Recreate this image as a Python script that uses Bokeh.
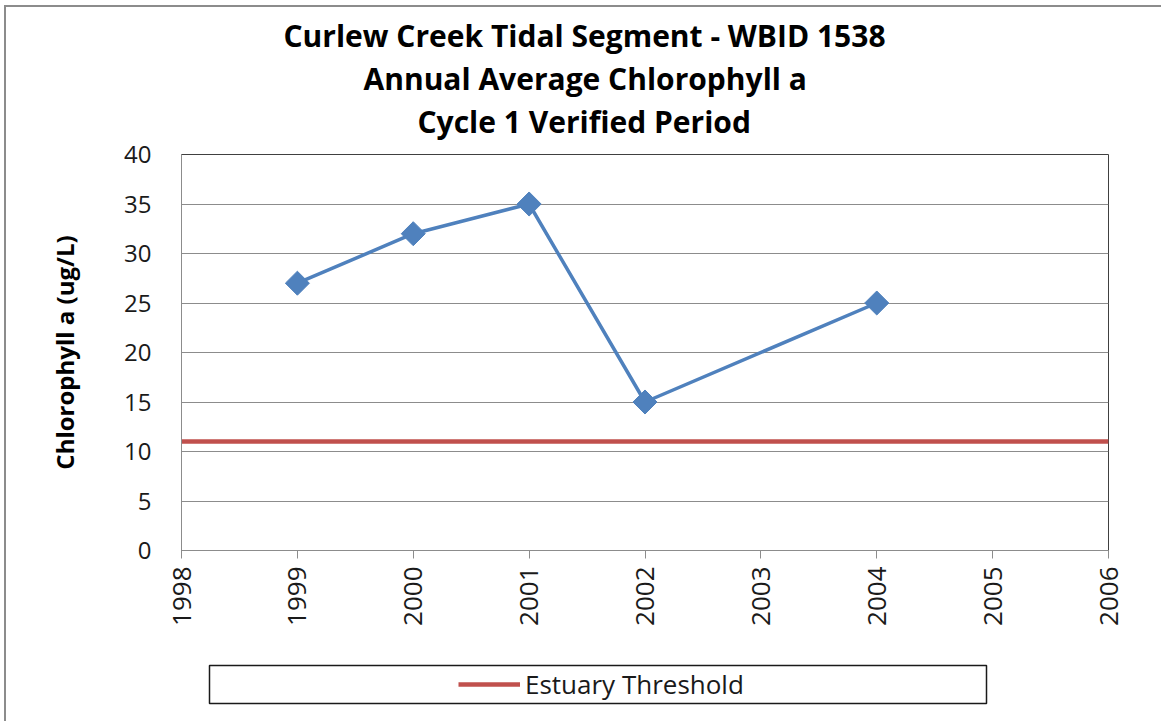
import numpy as np
from bokeh.plotting import figure
from bokeh.layouts import column
from bokeh.models import Range1d, FixedTicker, Legend, LegendItem, Title, BoxAnnotation
from bokeh.embed import file_html
from bokeh.resources import INLINE

# ---- data ----
years = [1999, 2000, 2001, 2002, 2004]
chl_values = [27, 32, 35, 15, 25]
threshold_value = 11
x_ticks = [1998, 1999, 2000, 2001, 2002, 2003, 2004, 2005, 2006]
y_ticks = [0, 5, 10, 15, 20, 25, 30, 35, 40]
title_lines = ["Curlew Creek Tidal Segment - WBID 1538",
               "Annual Average Chlorophyll a",
               "Cycle 1 Verified Period"]
y_label = "Chlorophyll a (ug/L)"
legend_label = "Estuary Threshold"

FONT = "Open Sans"
W = 1161
H_MAIN, H_LEG = 650, 71
FL, FT, FW, FH = 181, 154, 927, 396   # frame in pixels
X0, X1 = x_ticks[0], x_ticks[-1]
Y0, Y1 = y_ticks[0], y_ticks[-1]
THR_COLOR = "#C0504D"
SER_COLOR = "#4F81BD"
EDGE = "linear-gradient(#8c8c8c,#8c8c8c) 4px 5px / 2px 100% no-repeat"

p = figure(width=W, height=H_MAIN, output_backend="svg",
           toolbar_location=None,
           x_range=Range1d(X0, X1), y_range=Range1d(Y0, Y1))
p.min_border_left = FL
p.min_border_top = FT
p.min_border_right = W - FL - FW
p.min_border_bottom = H_MAIN - FT - FH
p.background_fill_color = "white"
p.border_fill_alpha = 0
p.styles = {"background": EDGE + ", linear-gradient(#8c8c8c,#8c8c8c) 4px 5px / 100% 2px no-repeat, white"}
p.outline_line_color = "#404040"
p.outline_line_width = 1

p.xgrid.visible = False
p.ygrid.ticker = FixedTicker(ticks=y_ticks)
p.ygrid.grid_line_color = "#8c8c8c"
p.ygrid.grid_line_width = 1

p.xaxis.ticker = FixedTicker(ticks=x_ticks)
p.yaxis.ticker = FixedTicker(ticks=y_ticks)
for ax in (p.xaxis[0], p.yaxis[0]):
    ax.axis_line_color = "#8c8c8c"
    ax.major_tick_line_color = "#8c8c8c"
    ax.minor_tick_line_color = None
    ax.major_label_text_font = FONT
    ax.major_label_text_color = "#1a1a1a"
p.xaxis.major_tick_out = 8
p.xaxis.major_tick_in = 0
p.xaxis.major_label_orientation = np.pi / 2
p.xaxis.major_label_standoff = 8
p.xaxis.major_label_text_font_size = "26px"
p.yaxis.major_tick_out = 0
p.yaxis.major_tick_in = 0
p.yaxis.major_label_standoff = 30
p.yaxis.major_label_text_font_size = "24px"
p.yaxis.axis_label = y_label
p.yaxis.axis_label_text_font = FONT
p.yaxis.axis_label_text_font_style = "bold"
p.yaxis.axis_label_text_font_size = "24px"
p.yaxis.axis_label_standoff = 40
p.yaxis.axis_label_text_color = "#000000"

# threshold
p.line(x=[X0, X1], y=[threshold_value, threshold_value],
       line_color=THR_COLOR, line_width=4.5)

# series
p.line(x=years, y=chl_values, line_color=SER_COLOR, line_width=3.5)
p.scatter(x=years, y=chl_values, marker="square", angle=np.pi / 4, size=17,
          fill_color=SER_COLOR, line_color=SER_COLOR)

# title: spacer first (closest to the plot), then lines from bottom to top
p.add_layout(Title(text=" ", text_font_size="8px", standoff=2), "above")
title_offsets = [236, 182, 102]
for line_txt, off in zip(reversed(title_lines), title_offsets):
    p.add_layout(Title(text=line_txt, align="left", offset=off,
                       text_font=FONT, text_font_style="bold",
                       text_font_size="30px", text_color="#000000",
                       standoff=0), "above")

# ---- legend strip under the chart (same horizontal frame as the chart) ----
px_per_year = FW / (X1 - X0)
def page_x(px):
    return X0 + (px - FL) / px_per_year

q = figure(width=W, height=H_LEG, output_backend="svg", toolbar_location=None,
           x_range=p.x_range, y_range=Range1d(-H_LEG, 0))
q.min_border_left = FL
q.min_border_right = W - FL - FW
q.min_border_top = 0
q.min_border_bottom = 0
q.xaxis.visible = False
q.yaxis.visible = False
q.grid.visible = False
q.outline_line_color = None
q.background_fill_color = "white"
q.border_fill_alpha = 0
q.styles = {"background": EDGE.replace("4px 5px", "4px 0px") + ", white"}
q.add_layout(BoxAnnotation(left=page_x(209), right=page_x(986), top=-15, bottom=-53,
                           fill_alpha=0, line_color="#1a1a1a", line_alpha=1.0,
                           line_width=1.5))
# legend key (drawn outside the strip's visible range; only its legend entry shows)
thr_key = q.line(x=[X0, X1], y=[threshold_value, threshold_value],
                 line_color=THR_COLOR, line_width=4.5)

legend = Legend(items=[LegendItem(label=legend_label, renderers=[thr_key])],
                location=(458 - FL, 19))
legend.border_line_color = None
legend.background_fill_alpha = 0
legend.glyph_width = 62
legend.label_text_font = FONT
legend.label_text_font_size = "26px"
legend.label_text_color = "#1a1a1a"
legend.label_standoff = 5
legend.padding = 0
legend.margin = 0
q.add_layout(legend, "center")

layout = column(p, q, spacing=0)
open("out.html", "w").write(file_html(layout, INLINE))
